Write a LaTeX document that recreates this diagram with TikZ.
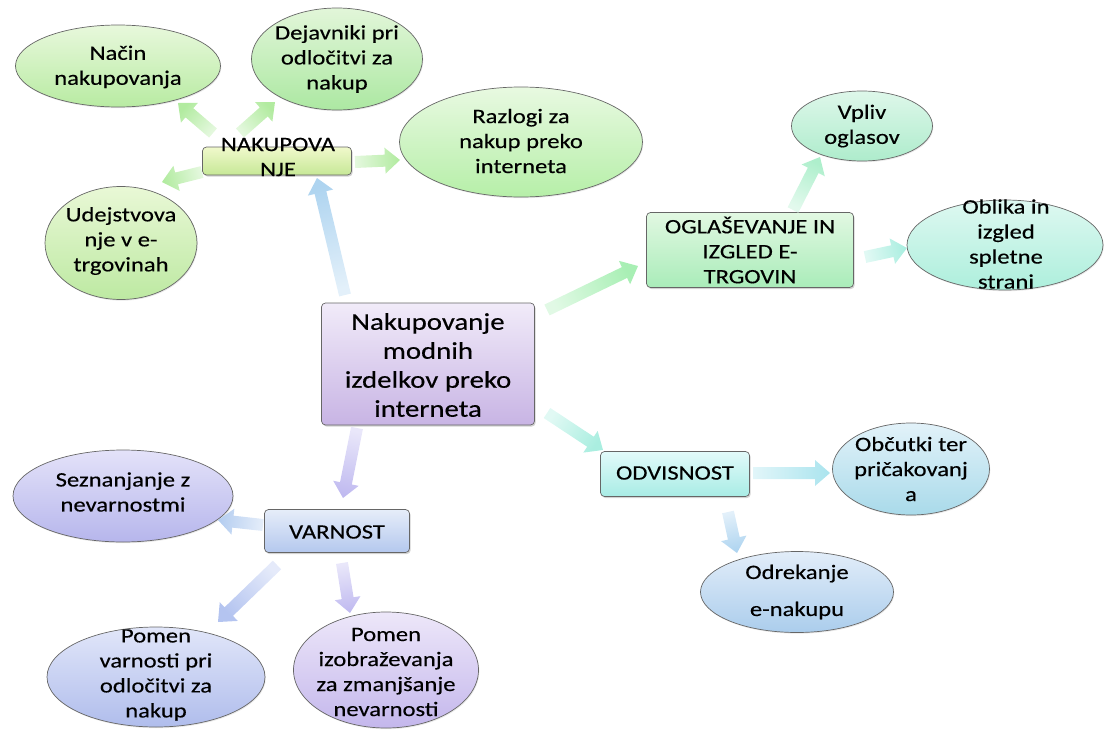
\documentclass[tikz,border=0pt]{standalone}
\usepackage{fontspec}
\setmainfont[FakeStretch=1.2,FakeBold=0.3]{Carlito}
\usetikzlibrary{shapes.geometric,shadows,calc}

\definecolor{cNacT}{HTML}{E8F8DC}\definecolor{cNacB}{HTML}{B8EBA2}
\definecolor{cDejT}{HTML}{E2F6D9}\definecolor{cDejB}{HTML}{ACE8A2}
\definecolor{cRazT}{HTML}{E8F9E1}\definecolor{cRazB}{HTML}{B6EFA8}
\definecolor{cUdeT}{HTML}{E9F8D6}\definecolor{cUdeB}{HTML}{BDE9A2}
\definecolor{cNakT}{HTML}{F0F9CC}\definecolor{cNakB}{HTML}{C6E896}
\definecolor{cOglT}{HTML}{E2F8E2}\definecolor{cOglB}{HTML}{A9ECB9}
\definecolor{cVplT}{HTML}{DEF7EA}\definecolor{cVplB}{HTML}{AEECCC}
\definecolor{cOblT}{HTML}{DEF8F1}\definecolor{cOblB}{HTML}{ADEFDC}
\definecolor{cOdvT}{HTML}{E2FAFA}\definecolor{cOdvB}{HTML}{A8ECE5}
\definecolor{cObcT}{HTML}{E2F2F9}\definecolor{cObcB}{HTML}{A9DAEA}
\definecolor{cOdrT}{HTML}{E2EDF9}\definecolor{cOdrB}{HTML}{ABCDEC}
\definecolor{cVarT}{HTML}{E6EDF9}\definecolor{cVarB}{HTML}{B4C8EE}
\definecolor{cSezT}{HTML}{E4E2F9}\definecolor{cSezB}{HTML}{B6B6EC}
\definecolor{cPvaT}{HTML}{E1E6F9}\definecolor{cPvaB}{HTML}{B0BDEC}
\definecolor{cPizT}{HTML}{EDE7F9}\definecolor{cPizB}{HTML}{C4B7EC}
\definecolor{cCenT}{HTML}{F1EBF9}\definecolor{cCenB}{HTML}{C8B4E4}

\definecolor{aGreen}{HTML}{B2EBA0}
\definecolor{aGreen2}{HTML}{A8EFB4}
\definecolor{aMint}{HTML}{AEEFCC}
\definecolor{aAqua}{HTML}{AAEEE0}
\definecolor{aCyan}{HTML}{AAE4EE}
\definecolor{aSky}{HTML}{AED4F0}
\definecolor{aBlue}{HTML}{B4CDF0}
\definecolor{aLav}{HTML}{C0BAF0}
\definecolor{aPeri}{HTML}{B4C4F0}

% block arrow: start coordinate, tip coordinate, tip colour
\newcommand\barrow[3]{%
  \pgfmathanglebetweenpoints{\pgfpointanchor{#1}{center}}{\pgfpointanchor{#2}{center}}%
  \pgfmathsetmacro\barang{\pgfmathresult-90}%
  \shade[top color=#3, bottom color=#3!35!white, shading angle=\barang]
    ($(#1)!6pt!90:(#2)$) -- ($(#2)!15pt!(#1)!6pt!-90:(#1)$) --
    ($(#2)!15pt!(#1)!13pt!-90:(#1)$) -- (#2) --
    ($(#2)!15pt!(#1)!13pt!90:(#1)$) -- ($(#2)!15pt!(#1)!6pt!90:(#1)$) --
    ($(#1)!6pt!-90:(#2)$) -- cycle;
}

\begin{document}
\begin{tikzpicture}[x=1pt,y=-1pt,
  bub/.style={ellipse, draw=black!60, line width=0.7pt, inner sep=0pt,
    drop shadow={opacity=0.18, shadow xshift=0.8pt, shadow yshift=-1.2pt}},
  box/.style={rectangle, rounded corners=4pt, draw=black!60, line width=0.7pt, inner sep=0pt,
    drop shadow={opacity=0.35, shadow xshift=1.2pt, shadow yshift=-1.6pt}},
  txt/.style={align=center, inner sep=0pt, font=\fontsize{20.5}{25}\selectfont, text=black},
  bigtxt/.style={align=center, inner sep=0pt, font=\fontsize{24}{29}\selectfont, text=black},
]
\useasboundingbox (0,0) rectangle (1106,731);

% ---------- nodes ----------
\node[box, top color=cCenT, bottom color=cCenB, minimum width=213pt, minimum height=122pt] (cen) at (428,364) {};
\node[bigtxt] (cenT) at (428,365) {Nakupovanje\\modnih\\izdelkov preko\\interneta};

\node[box, top color=cNakT, bottom color=cNakB, minimum width=149pt, minimum height=28pt] (nak) at (277,161) {};
\node[txt] (nakT) at (278,157) {NAKUPOVA\\NJE};

\node[bub, top color=cNacT, bottom color=cNacB, minimum width=205pt, minimum height=82pt] (nacin) at (118,66) {};
\node[txt] (nacinT) at (118,67) {Način\\nakupovanja};

\node[bub, top color=cDejT, bottom color=cDejB, minimum width=171pt, minimum height=102pt] (dej) at (337,59) {};
\node[txt] (dejT) at (337,59) {Dejavniki pri\\odločitvi za\\nakup};

\node[bub, top color=cRazT, bottom color=cRazB, minimum width=243pt, minimum height=110pt] (raz) at (521,142) {};
\node[txt] (razT) at (521,141) {Razlogi za\\nakup preko\\interneta};

\node[bub, top color=cUdeT, bottom color=cUdeB, minimum width=152pt, minimum height=113pt] (ude) at (121,243) {};
\node[txt] (udeT) at (121,241) {Udejstvova\\nje v e-\\trgovinah};

\node[box, top color=cOglT, bottom color=cOglB, minimum width=207pt, minimum height=75pt] (ogl) at (750,250) {};
\node[txt] (oglT) at (750,250) {OGLAŠEVANJE IN\\IZGLED E-\\TRGOVIN};

\node[bub, top color=cVplT, bottom color=cVplB, minimum width=141pt, minimum height=70pt] (vpl) at (862,126) {};
\node[txt] (vplT) at (862,126) {Vpliv\\oglasov};

\node[bub, top color=cOblT, bottom color=cOblB, minimum width=196pt, minimum height=90pt] (obl) at (1005,245) {};
\node[txt] (oblT) at (1006,244) {Oblika in\\izgled\\spletne\\strani};

\node[box, top color=cOdvT, bottom color=cOdvB, minimum width=149pt, minimum height=45pt] (odv) at (675,474) {};
\node[txt] (odvT) at (675,473) {ODVISNOST};

\node[bub, top color=cObcT, bottom color=cObcB, minimum width=157pt, minimum height=92pt] (obc) at (911,469) {};
\node[txt] (obcT) at (911,469) {Občutki ter\\pričakovanj\\a};

\node[bub, top color=cOdrT, bottom color=cOdrB, minimum width=193pt, minimum height=81pt] (odr) at (797,592) {};
\node[txt] (odrT) at (797,592) {Odrekanje\\[12pt]e-nakupu};

\node[box, top color=cVarT, bottom color=cVarB, minimum width=145pt, minimum height=43pt] (var) at (337,531) {};
\node[txt] (varT) at (337,532) {VARNOST};

\node[bub, top color=cSezT, bottom color=cSezB, minimum width=220pt, minimum height=92pt] (sez) at (123,496) {};
\node[txt] (sezT) at (123,492) {Seznanjanje z\\nevarnostmi};

\node[bub, top color=cPvaT, bottom color=cPvaB, minimum width=218pt, minimum height=100pt] (pva) at (156,677) {};
\node[txt] (pvaT) at (156,675) {Pomen\\varnosti pri\\odločitvi za\\nakup};

\node[bub, top color=cPizT, bottom color=cPizB, minimum width=185pt, minimum height=116pt] (piz) at (386,670) {};
\node[txt] (pizT) at (386,672) {Pomen\\izobraževanja\\za zmanjšanje\\nevarnosti};

% ---------- arrow end points ----------
\coordinate (a1s) at (213,133);  \coordinate (a1e) at (178,103);
\coordinate (a2s) at (240,133);  \coordinate (a2e) at (275,102);
\coordinate (a3s) at (355,162);  \coordinate (a3e) at (400,160);
\coordinate (a4s) at (202,172);  \coordinate (a4e) at (162,182);
\coordinate (a5s) at (345,295);  \coordinate (a5e) at (317,178);
\coordinate (a6s) at (547,310);  \coordinate (a6e) at (638,266);
\coordinate (a7s) at (793,210);  \coordinate (a7e) at (820,157);
\coordinate (a8s) at (865,257);  \coordinate (a8e) at (907,248);
\coordinate (a9s) at (547,413);  \coordinate (a9e) at (603,450);
\coordinate (a10s) at (753,473); \coordinate (a10e) at (830,473);
\coordinate (a11s) at (728,512); \coordinate (a11e) at (737,553);
\coordinate (a12s) at (357,428); \coordinate (a12e) at (343,498);
\coordinate (a13s) at (263,525); \coordinate (a13e) at (218,520);
\coordinate (a14s) at (277,565); \coordinate (a14e) at (218,622);
\coordinate (a15s) at (342,563); \coordinate (a15e) at (350,613);

% ---------- arrows ----------
\barrow{a1s}{a1e}{aGreen}
\barrow{a2s}{a2e}{aGreen}
\barrow{a3s}{a3e}{aGreen}
\barrow{a4s}{a4e}{aGreen}
\barrow{a5s}{a5e}{aSky}
\barrow{a6s}{a6e}{aGreen2}
\barrow{a7s}{a7e}{aMint}
\barrow{a8s}{a8e}{aAqua}
\barrow{a9s}{a9e}{aAqua}
\barrow{a10s}{a10e}{aCyan}
\barrow{a11s}{a11e}{aSky}
\barrow{a12s}{a12e}{aLav}
\barrow{a13s}{a13e}{aBlue}
\barrow{a14s}{a14e}{aPeri}
\barrow{a15s}{a15e}{aLav}
\end{tikzpicture}
\end{document}
